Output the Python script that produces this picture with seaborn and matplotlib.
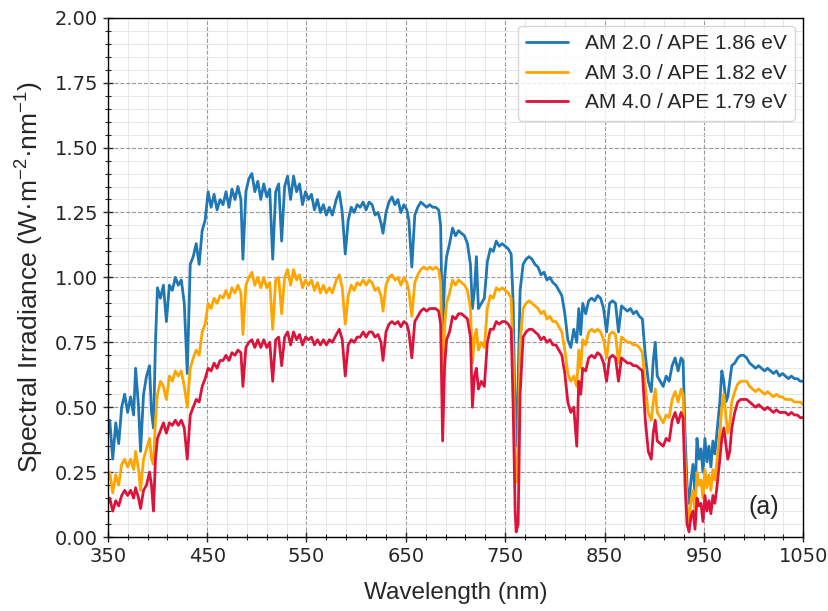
import numpy as np
import pandas as pd
import matplotlib
matplotlib.use("Agg")
import matplotlib.pyplot as plt
import seaborn as sns
from matplotlib.ticker import MultipleLocator, FormatStrFormatter

# Wavelength grid (nm) and spectral irradiance for three air masses
wavelength = [
    350, 352, 355, 358, 361, 364, 367, 370, 373, 376, 378, 381, 383, 386, 389, 392, 394, 396, 398,
    400, 403, 406, 409, 412, 415, 418, 421, 424, 427, 430, 433, 436, 439, 442, 445, 448,
    451, 454, 457, 460, 463, 466, 469, 472, 475, 478, 481, 484, 486, 489, 492, 495, 498,
    501, 504, 507, 510, 513, 516, 519, 522, 525, 528, 531, 534, 537, 540, 543, 546, 549,
    552, 555, 558, 561, 564, 567, 570, 573, 576, 580, 583, 586, 589, 592, 595, 598,
    601, 604, 607, 610, 613, 616, 619, 622, 625, 627, 630, 633, 636, 639, 642, 645, 648,
    651, 653, 656, 659, 662, 665, 668, 671, 674, 677, 680, 683, 685, 687, 689, 691, 694, 697,
    700, 703, 706, 709, 712, 715, 717, 719, 721, 723, 726, 729, 732, 735, 738, 741, 744, 747,
    750, 753, 756, 758, 760, 761, 763, 765, 768, 771, 774, 777, 780, 783, 786, 789, 792, 795, 798,
    801, 804, 807, 810, 813, 816, 819, 822, 824, 826, 828, 831, 834, 837, 840, 843, 846, 849,
    852, 855, 858, 861, 864, 867, 870, 873, 876, 879, 882, 885, 888, 891, 894, 897, 899,
    901, 903, 906, 909, 912, 915, 918, 921, 924, 927, 929, 931, 933, 935, 937, 939, 941, 943,
    945, 947, 949, 951, 953, 955, 957, 959, 961, 963, 966, 968, 970, 972, 974, 976, 978,
    981, 984, 987, 990, 993, 996, 999, 1002, 1005, 1008, 1011, 1014, 1017, 1020, 1023, 1026,
    1029, 1032, 1035, 1038, 1041, 1044, 1047, 1050,
]

am20 = [
    0.40, 0.45, 0.30, 0.44, 0.36, 0.50, 0.55, 0.48, 0.54, 0.47, 0.65, 0.50, 0.33, 0.55, 0.62, 0.66, 0.48, 0.42, 0.75,
    0.96, 0.92, 0.97, 0.83, 0.97, 0.95, 1.00, 0.97, 0.99, 0.90, 0.63, 1.05, 1.08, 1.13, 1.05, 1.18, 1.22,
    1.33, 1.27, 1.32, 1.26, 1.30, 1.28, 1.33, 1.27, 1.34, 1.30, 1.35, 1.30, 1.07, 1.33, 1.38, 1.40, 1.33,
    1.37, 1.30, 1.36, 1.31, 1.34, 1.07, 1.33, 1.36, 1.14, 1.35, 1.39, 1.30, 1.39, 1.33, 1.36, 1.28, 1.33,
    1.30, 1.32, 1.26, 1.30, 1.25, 1.28, 1.24, 1.27, 1.24, 1.30, 1.33, 1.25, 1.09, 1.22, 1.27, 1.25,
    1.28, 1.27, 1.29, 1.26, 1.29, 1.28, 1.24, 1.25, 1.21, 1.17, 1.25, 1.29, 1.31, 1.28, 1.30, 1.25, 1.28,
    1.26, 1.22, 1.04, 1.24, 1.27, 1.29, 1.28, 1.27, 1.28, 1.27, 1.27, 1.26, 1.20, 0.75, 1.00, 1.08, 1.13, 1.19,
    1.16, 1.18, 1.17, 1.16, 1.13, 1.05, 0.88, 0.95, 1.08, 0.88, 0.90, 0.92, 1.06, 1.11, 1.10, 1.14, 1.12, 1.13,
    1.12, 1.11, 1.09, 0.90, 0.45, 0.35, 0.60, 0.95, 1.05, 1.07, 1.08, 1.07, 1.05, 1.04, 1.01, 1.02, 0.99, 1.00, 0.98,
    0.97, 0.95, 0.93, 0.86, 0.76, 0.73, 0.80, 0.75, 0.88, 0.78, 0.90, 0.86, 0.91, 0.92, 0.91, 0.93, 0.92, 0.88,
    0.79, 0.90, 0.91, 0.90, 0.79, 0.89, 0.88, 0.87, 0.88, 0.86, 0.87, 0.85, 0.84, 0.70, 0.60, 0.56, 0.68,
    0.75, 0.62, 0.60, 0.58, 0.62, 0.60, 0.66, 0.69, 0.64, 0.69, 0.68, 0.40, 0.20, 0.13, 0.22, 0.28, 0.16, 0.38,
    0.30, 0.34, 0.25, 0.38, 0.29, 0.35, 0.27, 0.37, 0.32, 0.40, 0.52, 0.64, 0.60, 0.52, 0.54, 0.60, 0.66,
    0.67, 0.69, 0.70, 0.70, 0.69, 0.67, 0.66, 0.65, 0.66, 0.65, 0.64, 0.65, 0.64, 0.63, 0.64, 0.62,
    0.63, 0.62, 0.61, 0.62, 0.61, 0.61, 0.60, 0.60,
]

am30 = [
    0.22, 0.25, 0.17, 0.24, 0.20, 0.28, 0.30, 0.27, 0.30, 0.26, 0.33, 0.26, 0.18, 0.30, 0.34, 0.38, 0.30, 0.28, 0.45,
    0.55, 0.60, 0.58, 0.53, 0.62, 0.60, 0.64, 0.62, 0.64, 0.58, 0.50, 0.65, 0.69, 0.72, 0.70, 0.79, 0.82,
    0.90, 0.88, 0.92, 0.90, 0.93, 0.92, 0.95, 0.92, 0.96, 0.94, 0.97, 0.94, 0.78, 0.97, 1.00, 1.02, 0.97,
    1.00, 0.96, 1.00, 0.96, 0.98, 0.80, 0.99, 1.00, 0.86, 1.00, 1.03, 0.97, 1.03, 0.99, 1.01, 0.96, 0.99,
    0.97, 0.99, 0.95, 0.98, 0.94, 0.97, 0.94, 0.96, 0.94, 0.99, 1.01, 0.96, 0.82, 0.93, 0.97, 0.95,
    0.98, 0.97, 0.99, 0.97, 0.99, 0.98, 0.95, 0.96, 0.93, 0.87, 0.97, 1.00, 1.01, 0.99, 1.00, 0.97, 1.00,
    0.98, 0.95, 0.85, 0.98, 1.01, 1.03, 1.04, 1.03, 1.04, 1.03, 1.04, 1.03, 0.98, 0.55, 0.82, 0.90, 0.94, 0.99,
    0.97, 0.99, 0.98, 0.97, 0.95, 0.88, 0.67, 0.77, 0.80, 0.72, 0.75, 0.73, 0.88, 0.93, 0.92, 0.96, 0.95, 0.96,
    0.95, 0.94, 0.92, 0.70, 0.30, 0.21, 0.32, 0.75, 0.88, 0.90, 0.91, 0.90, 0.89, 0.88, 0.86, 0.87, 0.84, 0.85, 0.83,
    0.83, 0.81, 0.79, 0.72, 0.63, 0.60, 0.62, 0.58, 0.72, 0.65, 0.76, 0.74, 0.79, 0.80, 0.79, 0.80, 0.79, 0.76,
    0.69, 0.78, 0.79, 0.78, 0.67, 0.77, 0.76, 0.75, 0.75, 0.74, 0.74, 0.73, 0.71, 0.58, 0.48, 0.45, 0.52,
    0.57, 0.48, 0.46, 0.44, 0.47, 0.46, 0.53, 0.56, 0.52, 0.57, 0.55, 0.30, 0.12, 0.06, 0.14, 0.18, 0.09, 0.25,
    0.20, 0.22, 0.15, 0.26, 0.19, 0.24, 0.18, 0.26, 0.22, 0.29, 0.40, 0.50, 0.55, 0.47, 0.40, 0.44, 0.52,
    0.56, 0.59, 0.60, 0.60, 0.60, 0.58, 0.57, 0.56, 0.57, 0.56, 0.55, 0.56, 0.55, 0.54, 0.55, 0.54,
    0.54, 0.53, 0.53, 0.53, 0.52, 0.52, 0.52, 0.51,
]

am40 = [
    0.13, 0.15, 0.10, 0.14, 0.12, 0.16, 0.18, 0.16, 0.18, 0.15, 0.19, 0.15, 0.11, 0.18, 0.20, 0.25, 0.20, 0.10, 0.30,
    0.38, 0.41, 0.44, 0.40, 0.44, 0.43, 0.45, 0.43, 0.45, 0.42, 0.30, 0.47, 0.50, 0.53, 0.52, 0.58, 0.61,
    0.65, 0.64, 0.67, 0.65, 0.68, 0.68, 0.70, 0.68, 0.71, 0.70, 0.72, 0.71, 0.58, 0.73, 0.75, 0.76, 0.73,
    0.76, 0.73, 0.76, 0.73, 0.75, 0.60, 0.76, 0.77, 0.66, 0.77, 0.79, 0.74, 0.79, 0.76, 0.78, 0.74, 0.77,
    0.76, 0.77, 0.74, 0.76, 0.74, 0.76, 0.74, 0.76, 0.75, 0.78, 0.80, 0.76, 0.62, 0.74, 0.76, 0.75,
    0.77, 0.77, 0.79, 0.77, 0.79, 0.79, 0.77, 0.78, 0.75, 0.68, 0.79, 0.82, 0.83, 0.82, 0.83, 0.81, 0.83,
    0.82, 0.79, 0.69, 0.83, 0.85, 0.87, 0.88, 0.87, 0.88, 0.88, 0.88, 0.87, 0.82, 0.37, 0.66, 0.76, 0.79, 0.85,
    0.84, 0.86, 0.86, 0.85, 0.84, 0.77, 0.50, 0.62, 0.65, 0.57, 0.60, 0.58, 0.75, 0.80, 0.80, 0.83, 0.82, 0.83,
    0.83, 0.82, 0.80, 0.50, 0.10, 0.02, 0.05, 0.55, 0.77, 0.79, 0.80, 0.80, 0.79, 0.78, 0.76, 0.77, 0.75, 0.76, 0.74,
    0.74, 0.72, 0.70, 0.63, 0.52, 0.48, 0.50, 0.35, 0.60, 0.55, 0.65, 0.64, 0.69, 0.70, 0.69, 0.71, 0.70, 0.67,
    0.60, 0.69, 0.70, 0.69, 0.60, 0.69, 0.68, 0.67, 0.67, 0.66, 0.66, 0.65, 0.64, 0.45, 0.33, 0.30, 0.40,
    0.45, 0.37, 0.36, 0.35, 0.38, 0.37, 0.45, 0.48, 0.44, 0.48, 0.46, 0.20, 0.05, 0.02, 0.08, 0.10, 0.03, 0.15,
    0.12, 0.13, 0.06, 0.16, 0.10, 0.14, 0.09, 0.16, 0.13, 0.19, 0.30, 0.38, 0.42, 0.36, 0.30, 0.33, 0.42,
    0.48, 0.52, 0.53, 0.53, 0.53, 0.52, 0.51, 0.50, 0.51, 0.50, 0.49, 0.50, 0.49, 0.48, 0.49, 0.48,
    0.48, 0.48, 0.47, 0.48, 0.47, 0.47, 0.46, 0.46,
]

labels = ["AM 2.0 / APE 1.86 eV", "AM 3.0 / APE 1.82 eV", "AM 4.0 / APE 1.79 eV"]
colors = ["#1f77b4", "#FFA500", "#DC143C"]

df = pd.concat(
    [pd.DataFrame({"Wavelength": wavelength, "Irradiance": vals, "Spectrum": lab})
     for vals, lab in zip([am20, am30, am40], labels)],
    ignore_index=True,
)

sns.set_style("ticks")
plt.rcParams["font.family"] = ["DejaVu Sans"]
plt.rcParams["mathtext.default"] = "regular"

fig = plt.figure(figsize=(8.29, 6.11), dpi=100)
ax = fig.add_axes([0.130, 0.121, 0.839, 0.850])

sns.lineplot(data=df, x="Wavelength", y="Irradiance", hue="Spectrum",
             palette=dict(zip(labels, colors)), linewidth=2.0, ax=ax,
             sort=False, estimator=None)

ax.set_xlim(350, 1050)
ax.set_ylim(0, 2.0)
ax.xaxis.set_major_locator(MultipleLocator(100, offset=50))
ax.xaxis.set_minor_locator(MultipleLocator(20, offset=10))
ax.yaxis.set_major_locator(MultipleLocator(0.25))
ax.yaxis.set_minor_locator(MultipleLocator(0.05))
ax.yaxis.set_major_formatter(FormatStrFormatter("%.2f"))

ax.grid(which="major", color="#999999", linestyle="--", linewidth=0.8)
ax.grid(which="minor", color="#e3e3e3", linestyle="-", linewidth=0.6)
ax.set_axisbelow(True)

ax.tick_params(axis="both", which="major", labelsize=14, length=7, width=1, direction="inout")
ax.tick_params(axis="both", which="minor", length=4, width=0.8, direction="inout")
for sp in ax.spines.values():
    sp.set_color("black")
    sp.set_linewidth(1.0)

lab_family = ["Liberation Sans", "DejaVu Sans"]
ax.set_xlabel("Wavelength (nm)", family=lab_family, size=17.5, labelpad=12)
ax.set_ylabel("Spectral Irradiance (W·m$^{-2}$·nm$^{-1}$)", family=lab_family, size=19, labelpad=6)

leg = ax.legend(loc="upper right", prop={"family": lab_family, "size": 15},
                frameon=True, framealpha=0.8, fancybox=True, handlelength=2.0,
                borderaxespad=0.4)
leg.get_frame().set_edgecolor("#cccccc")

ax.text(0.965, 0.035, "(a)", transform=ax.transAxes, ha="right", va="bottom",
        fontsize=18, family=lab_family)

fig.savefig("out.png", dpi=100)
